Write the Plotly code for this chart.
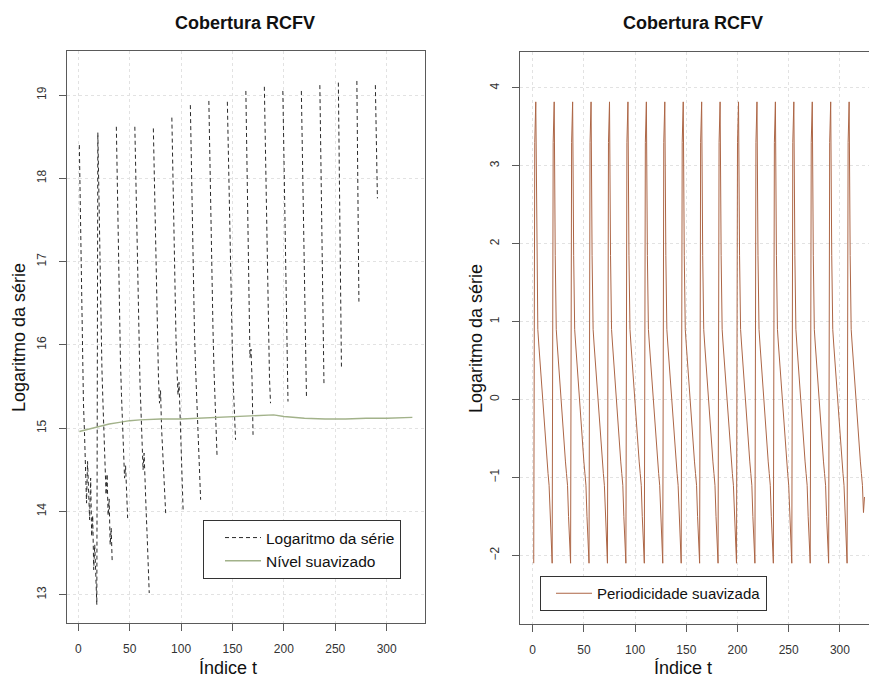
import plotly.graph_objects as go

W, H = 869, 680

# ---------------- data: left panel ----------------
inicio_ciclos = [1, 19, 37, 55, 73, 91, 109, 127, 145, 163, 181, 199, 217, 235, 253, 271, 289]
ciclos_log = [
    [18.40, 17.55, 16.50, 15.90, 15.30, 14.95, 14.50, 14.10, 14.60, 14.25, 13.90, 14.40, 13.70, 13.95, 13.30, 13.60, 13.20, 12.88],
    [18.55, 17.80, 16.90, 16.20, 15.70, 15.30, 14.90, 14.50, 14.20, 14.45, 13.95, 14.15, 13.60, 13.80, 13.38],
    [18.62, 17.90, 17.00, 16.30, 15.80, 15.40, 15.00, 14.70, 14.40, 14.55, 14.15, 13.92],
    [18.62, 17.95, 17.10, 16.40, 15.90, 15.55, 15.20, 14.85, 14.50, 14.70, 14.20, 14.00, 13.70, 13.40, 13.02],
    [18.60, 17.95, 17.15, 16.50, 16.00, 15.60, 15.30, 15.45, 15.00, 14.70, 14.40, 14.20, 13.98],
    [18.73, 18.05, 17.25, 16.60, 16.10, 15.70, 15.40, 15.55, 15.10, 14.75, 14.35, 14.00],
    [18.88, 18.15, 17.30, 16.65, 16.15, 15.75, 15.45, 15.10, 14.80, 14.45, 14.14],
    [18.93, 18.20, 17.35, 16.70, 16.20, 15.70, 15.35, 15.00, 14.66],
    [18.92, 18.25, 17.45, 16.80, 16.25, 15.85, 15.45, 15.15, 14.86],
    [19.05, 18.30, 17.50, 16.80, 15.85, 15.95, 15.60, 14.92],
    [19.10, 18.35, 17.55, 16.80, 16.10, 15.60, 15.30],
    [19.05, 18.20, 17.35, 16.55, 15.85, 15.32],
    [19.05, 18.20, 17.40, 16.60, 15.90, 15.36],
    [19.12, 18.10, 17.20, 16.30, 15.54],
    [19.15, 18.00, 16.85, 15.74],
    [19.17, 17.80, 16.52],
    [19.12, 18.38, 17.76],
]

t_nivel = [1, 10, 20, 30, 40, 50, 60, 80, 100, 120, 140, 160, 180, 190, 200, 220, 240, 260, 280, 300, 325]
nivel_suavizado = [14.96, 14.99, 15.02, 15.05, 15.07, 15.09, 15.10, 15.11, 15.11, 15.12, 15.13, 15.14,
                   15.15, 15.16, 15.14, 15.12, 15.11, 15.11, 15.12, 15.12, 15.13]

# ---------------- data: right panel ----------------
periodo_padrao = [3.30, 3.82, 1.85, 0.90, 0.70, 0.50, 0.32, 0.15, 0.00, -0.20, -0.40,
                  -0.60, -0.80, -0.95, -1.10, -1.50, -1.80, -2.10]
n_ciclos = 18
periodicidade_inicio = [-2.10]
periodicidade_final = [-1.45, -1.25]

# ---------------- build series ----------------
x_log, y_log = [], []
prev_end = None
for t0, vals in zip(inicio_ciclos, ciclos_log):
    if prev_end is not None and t0 != prev_end + 1:
        x_log.append(None)
        y_log.append(None)
    for i, v in enumerate(vals):
        x_log.append(t0 + i)
        y_log.append(v)
    prev_end = t0 + len(vals) - 1

per_vals = list(periodicidade_inicio)
for c in range(n_ciclos):
    per_vals.extend(periodo_padrao)
per_vals = per_vals[:-3] + periodicidade_final
t_per = list(range(1, len(per_vals) + 1))

FONT = "Liberation Sans, Arial, sans-serif"
LINEC = "#5a5a5a"
GRIDC = "#e2e2e2"

fig = go.Figure()
fig.add_trace(go.Scatter(x=x_log, y=y_log, mode="lines", name="Logaritmo da série",
                         line=dict(color="#2a2a2a", width=1, dash="4px,3px"),
                         xaxis="x", yaxis="y", legend="legend", connectgaps=False))
fig.add_trace(go.Scatter(x=t_nivel, y=nivel_suavizado, mode="lines", name="Nível suavizado",
                         line=dict(color="#a2b28a", width=1.4),
                         xaxis="x", yaxis="y", legend="legend"))
fig.add_trace(go.Scatter(x=t_per, y=per_vals, mode="lines", name="Periodicidade suavizada",
                         line=dict(color="#ad6646", width=1),
                         xaxis="x2", yaxis="y2", legend="legend2"))

def px_x(p):
    return p / W

def px_y(p):
    return 1 - p / H

common_axis = dict(showline=True, linecolor=LINEC, linewidth=1, ticks="outside", ticklen=7,
                   tickcolor=LINEC, tickfont=dict(size=12, color="#333333", family=FONT),
                   showgrid=True, gridcolor=GRIDC, griddash="dot", gridwidth=1, zeroline=False)

fig.update_layout(
    width=W, height=H, margin=dict(l=0, r=0, t=0, b=0),
    paper_bgcolor="white", plot_bgcolor="white",
    font=dict(family=FONT, color="#111111"),
    xaxis=dict(domain=[px_x(66.7), px_x(425)], range=[-11.3, 337.3], tickvals=[0, 50, 100, 150, 200, 250, 300],
               anchor="y", mirror=True, ticklabelstandoff=8, **common_axis),
    yaxis=dict(domain=[px_y(623), px_y(51)], range=[12.66, 19.53], tickvals=[13, 14, 15, 16, 17, 18, 19],
               tickangle=-90, anchor="x", mirror=True, ticklabelstandoff=8, **common_axis),
    xaxis2=dict(domain=[px_x(520), 1.0], range=[-12.4, 328.4], tickvals=[0, 50, 100, 150, 200, 250, 300],
                anchor="y2", mirror=True, ticklabelstandoff=8, **common_axis),
    yaxis2=dict(domain=[px_y(624), px_y(52)], range=[-2.88, 4.46], tickvals=[-2, -1, 0, 1, 2, 3, 4],
                tickangle=-90, anchor="x2", mirror=False, ticklabelstandoff=8, **common_axis),
    legend=dict(x=px_x(203), y=px_y(520), xanchor="left", yanchor="top",
                bordercolor="#333333", borderwidth=1, bgcolor="white", indentation=16,
                font=dict(size=15.5, family=FONT, color="#111111"), itemwidth=36, tracegroupgap=0),
    legend2=dict(x=px_x(540), y=px_y(576), xanchor="left", yanchor="top",
                 bordercolor="#333333", borderwidth=1, bgcolor="white", indentation=10,
                 font=dict(size=15, family=FONT, color="#111111"), itemwidth=36),
    showlegend=True,
)

ann = []
for cx in (245, 693):
    ann.append(dict(text="<b>Cobertura RCFV</b>", x=px_x(cx), y=px_y(23), xref="paper", yref="paper",
                    showarrow=False, font=dict(size=18, family=FONT, color="#111111"),
                    xanchor="center", yanchor="middle"))
for cx in (228, 683):
    ann.append(dict(text="Índice t", x=px_x(cx), y=px_y(668), xref="paper", yref="paper",
                    showarrow=False, font=dict(size=18, family=FONT, color="#111111"),
                    xanchor="center", yanchor="middle"))
for cx in (19, 476):
    ann.append(dict(text="Logaritmo da série", x=px_x(cx), y=px_y(338), xref="paper", yref="paper",
                    showarrow=False, textangle=-90, font=dict(size=18, family=FONT, color="#111111"),
                    xanchor="center", yanchor="middle"))
fig.update_layout(annotations=ann)

fig.write_html("out.html")
